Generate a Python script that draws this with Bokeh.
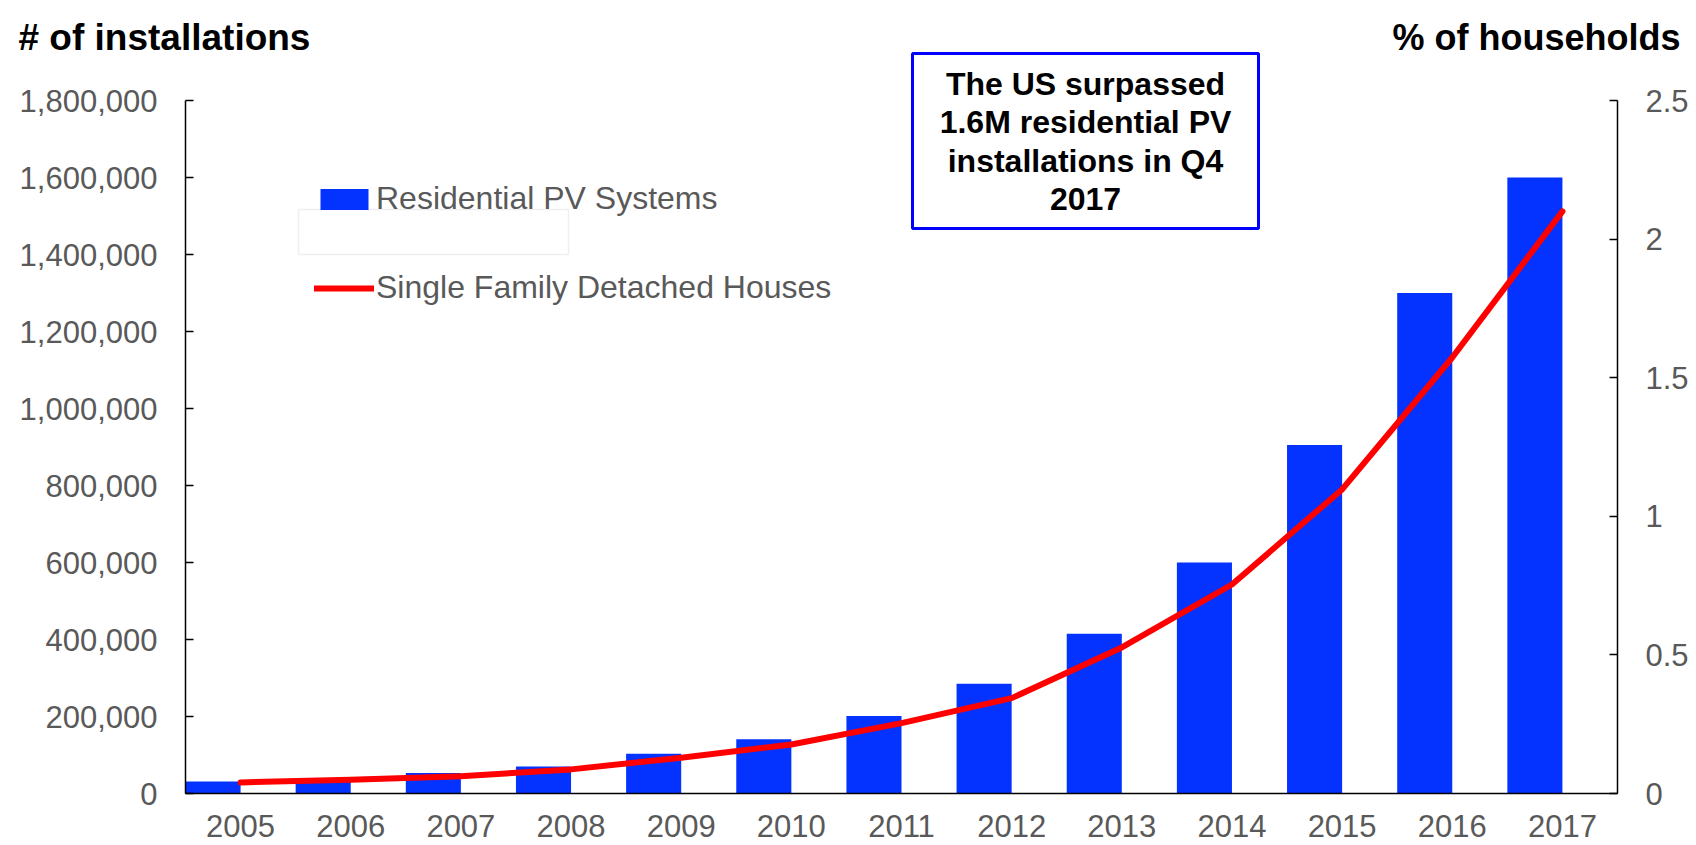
from bokeh.plotting import figure
from bokeh.models import (ColumnDataSource, Range1d, LinearAxis, NumeralTickFormatter,
                          FixedTicker, Legend, LegendItem, Label, BoxAnnotation)
from bokeh.transform import dodge
from bokeh.embed import file_html
from bokeh.resources import INLINE

# Data
years = [2005, 2006, 2007, 2008, 2009, 2010, 2011,
         2012, 2013, 2014, 2015, 2016, 2017]
pv_systems = [31000, 40000, 53000, 70000, 103000, 141000, 201000,
              285000, 415000, 600000, 905000, 1300000, 1600000]
pct_households = [0.04, 0.05, 0.062, 0.087, 0.129, 0.177, 0.254,
                  0.344, 0.527, 0.754, 1.097, 1.573, 2.10]
left_ticks = [0, 200000, 400000, 600000, 800000, 1000000,
              1200000, 1400000, 1600000, 1800000]
right_ticks = [0, 0.5, 1, 1.5, 2, 2.5]
left_max = 1800000
right_max = 2.5

BLUE = "#0433FF"
RED = "#FF0000"
GRAY = "#595959"
FONT = "Liberation Sans"

# Page geometry (pixels): the plotting frame fills the whole canvas and the
# axes are pinned at fixed data locations inside it.
W, H = 1696, 845
AX_L, AX_R = 185, 1617          # left / right axis lines
AX_TOP, AX_BOT = 100, 793       # top of value axes / baseline

slot = (AX_R - AX_L) / len(years)
x0 = years[0] - 0.5
x_start = x0 - AX_L / slot
x_end = x0 + (W - AX_L) / slot

def y_limits(vmax):
    per_px = vmax / (AX_BOT - AX_TOP)
    return -(H - AX_BOT) * per_px, AX_BOT * per_px

src = ColumnDataSource(dict(year=years, pv=pv_systems, pct=pct_households))

p = figure(width=W, height=H,
           x_range=Range1d(x_start, x_end),
           y_range=Range1d(*y_limits(left_max)),
           output_backend="svg", toolbar_location=None,
           min_border=0, min_border_left=0, min_border_right=0,
           min_border_top=0, min_border_bottom=0,
           x_axis_type=None, y_axis_type=None)
p.extra_y_ranges = {"pct": Range1d(*y_limits(right_max))}

p.outline_line_color = None
p.background_fill_color = "white"
p.border_fill_color = "white"
p.xgrid.visible = False
p.ygrid.visible = False

bars = p.vbar(x=dodge("year", -0.25), top="pv", width=0.5,
              source=src, fill_color=BLUE, line_color=None)
line = p.line(x="year", y="pct", y_range_name="pct", source=src,
              line_color=RED, line_width=6, line_cap="round", line_join="round")

# Axes
xa = LinearAxis(ticker=FixedTicker(ticks=years),
                formatter=NumeralTickFormatter(format="0"),
                fixed_location=0, bounds=(years[0] - 0.5, years[-1] + 0.5))
xa.axis_line_color = "black"
xa.axis_line_width = 1.5
xa.major_tick_line_color = None
xa.minor_tick_line_color = None
xa.major_label_standoff = 15
xa.major_label_text_font = FONT
xa.major_label_text_font_size = "31px"
xa.major_label_text_color = GRAY
p.add_layout(xa, "below")

ya = LinearAxis(ticker=FixedTicker(ticks=left_ticks),
                formatter=NumeralTickFormatter(format="0,0"),
                fixed_location=years[0] - 0.5, bounds=(0, left_max))
ra = LinearAxis(y_range_name="pct", ticker=FixedTicker(ticks=right_ticks),
                formatter=NumeralTickFormatter(format="0.[0]"),
                fixed_location=years[-1] + 0.5, bounds=(0, right_max))
p.add_layout(ya, "left")
p.add_layout(ra, "right")

for ax in (ya, ra):
    ax.axis_line_color = "black"
    ax.axis_line_width = 1.5
    ax.major_tick_in = 8
    ax.major_tick_out = 0
    ax.major_tick_line_width = 1.5
    ax.minor_tick_line_color = None
    ax.major_label_standoff = 28
    ax.major_label_text_font = FONT
    ax.major_label_text_font_size = "31px"
    ax.major_label_text_color = GRAY

# Legend
legend = Legend(
    items=[LegendItem(label="Residential PV Systems", renderers=[bars]),
           LegendItem(label="Single Family Detached Houses", renderers=[line])],
    location=(314, 539), orientation="vertical",
    glyph_width=60, glyph_height=26, label_height=26, spacing=52,
    label_standoff=2, padding=0, margin=0,
    border_line_color=None, background_fill_alpha=0,
    label_text_font=FONT, label_text_font_size="32px",
    label_text_color=GRAY)
p.add_layout(legend)

# blank patch sitting over the legend between its two entries
p.add_layout(BoxAnnotation(left=298, right=568, top=636, bottom=591,
                           left_units="screen", right_units="screen",
                           top_units="screen", bottom_units="screen",
                           fill_color="white", fill_alpha=1,
                           line_color="#EFEFEF", line_alpha=1, line_width=1.5))

# Axis titles
p.add_layout(Label(x=18, y=H - 37, x_units="screen", y_units="screen",
                   text="# of installations", text_font=FONT,
                   text_font_size="37px", text_font_style="bold",
                   text_color="black", text_baseline="alphabetic"))
p.add_layout(Label(x=1680, y=H - 37, x_units="screen", y_units="screen",
                   text="% of households", text_font=FONT,
                   text_font_size="36px", text_font_style="bold",
                   text_color="black", text_align="right",
                   text_baseline="alphabetic"))

# Callout box
p.add_layout(BoxAnnotation(left=912, right=1258, top=H - 53, bottom=H - 228,
                           left_units="screen", right_units="screen",
                           top_units="screen", bottom_units="screen",
                           fill_color="white", fill_alpha=1,
                           line_color="#0000FF", line_alpha=1, line_width=3))
p.add_layout(Label(x=1085, y=H - 141, x_units="screen", y_units="screen",
                   text="The US surpassed\n1.6M residential PV\ninstallations in Q4\n2017",
                   text_font=FONT, text_font_size="32px", text_font_style="bold",
                   text_color="black", text_align="center", text_baseline="middle",
                   text_line_height=1.06))

open("out.html", "w").write(file_html(p, INLINE))
